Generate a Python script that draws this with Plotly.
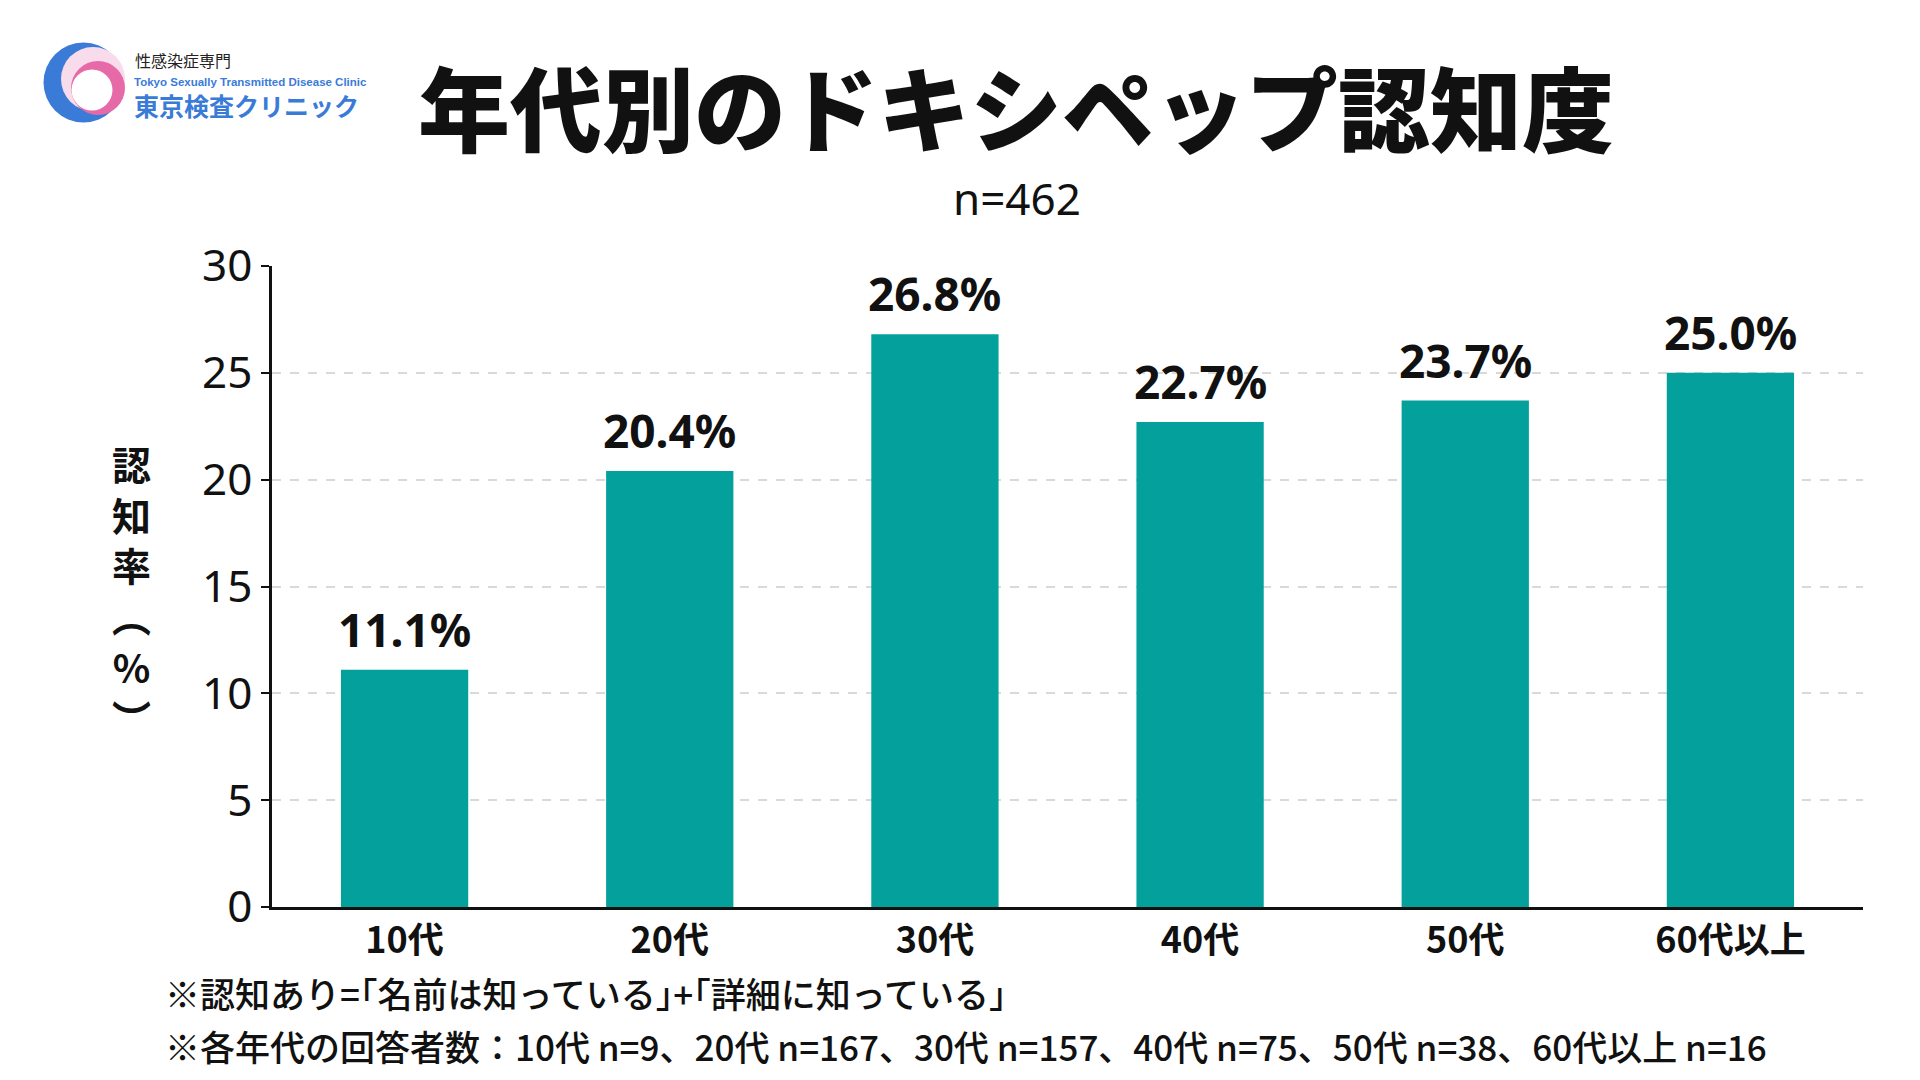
import plotly.graph_objs as go

# data
ages = ["10代", "20代", "30代", "40代", "50代", "60代以上"]
rates = [11.1, 20.4, 26.8, 22.7, 23.7, 25.0]
y_ticks = [0, 5, 10, 15, 20, 25, 30]
sample_sizes = [9, 167, 157, 75, 38, 16]
total_n = 462

title = "年代別のドキシペップ認知度"
y_title = ["認", "知", "率", "︵", "%", "︶"]
note1 = "※認知あり=｢名前は知っている｣+｢詳細に知っている｣"
note2 = "※各年代の回答者数：" + "、".join(f"{a} n={n}" for a, n in zip(ages, sample_sizes))

W, H = 1920, 1080
ML, MR, MT, MB = 272, 57, 266, 173
TEAL = "#04a09b"
BLUE = "#3a7bd8"
JP = "Noto Sans CJK JP"
NUM = "Noto Sans, Noto Sans CJK JP"


def px(x):
    return (x - ML) / (W - ML - MR)


def py(y):
    return (H - MB - y) / (H - MT - MB)


fig = go.Figure()
fig.add_trace(go.Bar(x=ages, y=rates, marker=dict(color=TEAL, line=dict(width=0)),
                     hoverinfo="skip"))

# value labels above each bar
for a, v in zip(ages, rates):
    fig.add_annotation(x=a, y=v, text=f"{v:.1f}%", showarrow=False, yanchor="bottom",
                       yshift=8, font=dict(family=NUM, size=46, color="#111", weight="bold"))


def label(x, y, text, font, xanchor="center"):
    fig.add_annotation(xref="paper", yref="paper", x=px(x), y=py(y), text=text, showarrow=False,
                       xanchor=xanchor, yanchor="middle", font=font)


label(1016, 104, title, dict(family=JP, size=92, color="#111", weight=900))
label(1017, 198, f"n={total_n}", dict(family=NUM, size=44, color="#111"))
label(131, 590, "<br>".join(y_title), dict(family=JP, size=39, color="#111", weight="bold"))
label(163, 992, note1, dict(family=JP, size=35, color="#111", weight=500), "left")
label(163, 1045, note2, dict(family=JP, size=35, color="#111", weight=500), "left")

# logo
label(133, 60, "性感染症専門", dict(family=JP, size=16, color="#222"), "left")
label(132, 82, "Tokyo Sexually Transmitted Disease Clinic",
      dict(family="Liberation Sans", size=11.5, color=BLUE, weight="bold"), "left")
label(132, 105, "東京検査クリニック", dict(family=JP, size=25, color=BLUE, weight="bold"), "left")


def circle(cx, cy, r, color):
    fig.add_shape(type="circle", xref="paper", yref="paper", x0=px(cx - r), x1=px(cx + r),
                  y0=py(cy + r), y1=py(cy - r), fillcolor=color, line=dict(width=0), layer="above")


circle(83.5, 82.5, 40, BLUE)
circle(93, 79, 32, "#f9dcec")
circle(98, 88, 27, "#e66aa8")
circle(92, 90, 20.5, "white")

fig.update_layout(
    width=W, height=H,
    margin=dict(l=ML, r=MR, t=MT, b=MB),
    paper_bgcolor="white", plot_bgcolor="white",
    showlegend=False, bargap=0.52,
    xaxis=dict(showline=True, linecolor="#111", linewidth=2.5, ticks="",
               tickfont=dict(family=JP, size=36, color="#111", weight="bold"),
               range=[-0.5, 5.5]),
    yaxis=dict(range=[0, 30], tickvals=y_ticks, showline=True, linecolor="#111", linewidth=2.5,
               ticks="outside", ticklen=8, tickwidth=2, tickcolor="#111",
               tickfont=dict(family=NUM, size=44, color="#111"),
               showgrid=True, gridcolor="#d9d9d9", griddash="dash", gridwidth=1.5,
               zeroline=False),
)

fig.write_html("out.html", config={"displayModeBar": False},
               post_script="document.body.style.margin='0';")
